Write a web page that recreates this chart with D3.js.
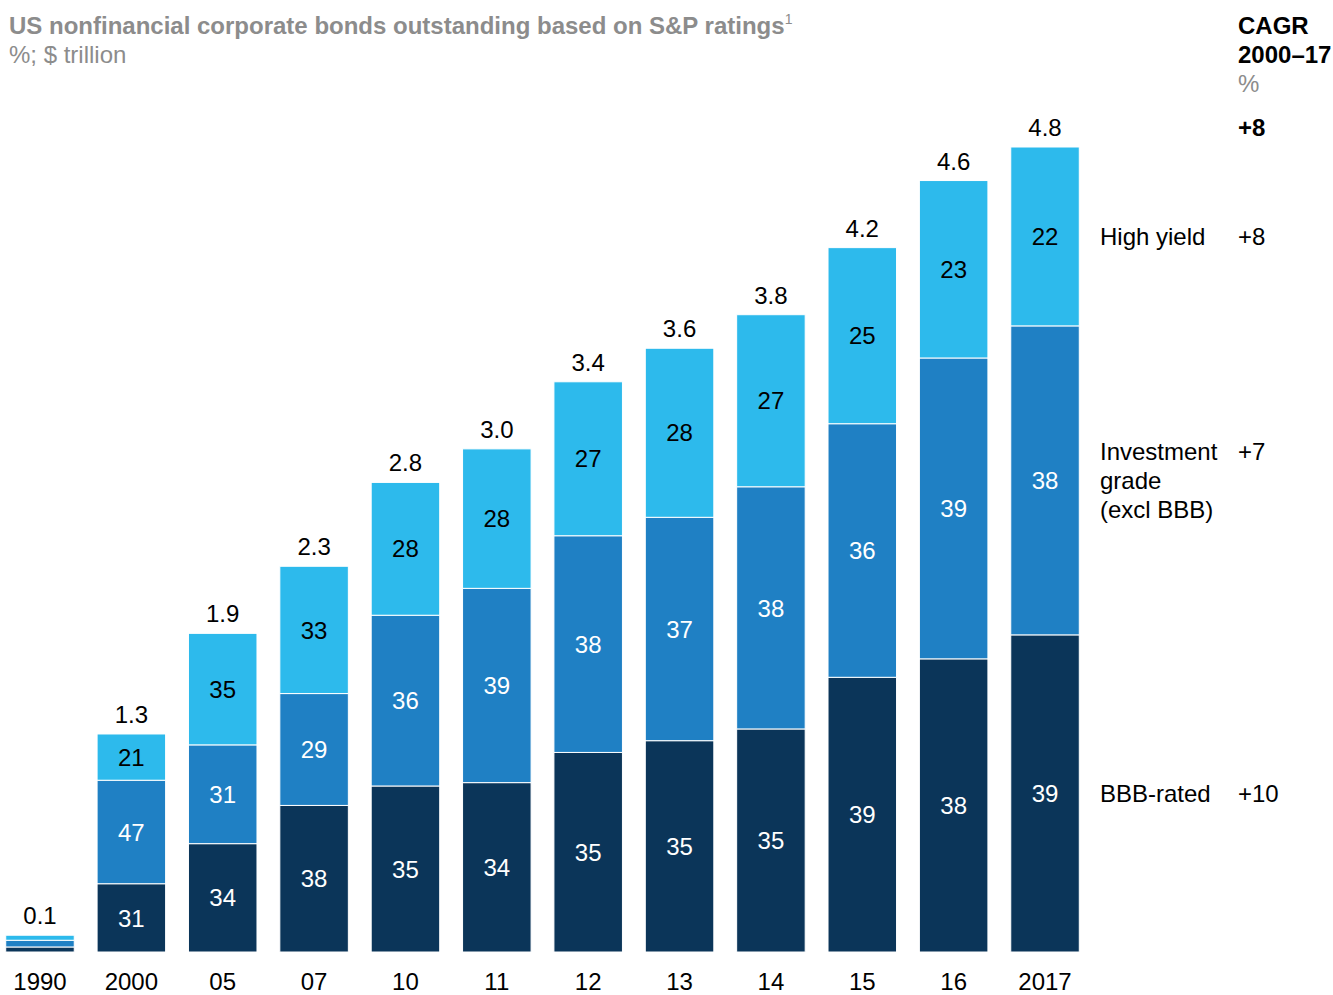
<!DOCTYPE html>
<html>
<head>
<meta charset="utf-8">
<script src="https://cdn.jsdelivr.net/npm/d3@7/dist/d3.min.js"></script>
<style>
  html, body { margin: 0; padding: 0; background: #fff; }
  svg { display: block; font-family: "Liberation Sans", Arial, sans-serif; }
</style>
</head>
<body>
<svg id="chart" width="1333" height="995"></svg>
<script>
// Years on the x axis
const years = ["1990", "2000", "05", "07", "10", "11", "12", "13", "14", "15", "16", "2017"];
// Total outstanding, $ trillion
const totals = [0.1, 1.3, 1.9, 2.3, 2.8, 3.0, 3.4, 3.6, 3.8, 4.2, 4.6, 4.8];
// Share of total by rating, % (1990 shares are not labelled)
const bbbShare = [30, 31, 34, 38, 35, 34, 35, 35, 35, 39, 38, 39];
const igShare  = [40, 47, 31, 29, 36, 39, 38, 37, 38, 36, 39, 38];
const hyShare  = [30, 21, 35, 33, 28, 28, 27, 28, 27, 25, 23, 22];
const showShareLabels = [false, true, true, true, true, true, true, true, true, true, true, true];

// Series (bottom to top) and the CAGR column
const seriesLabelLines = [["BBB-rated"], ["Investment", "grade", "(excl BBB)"], ["High yield"]];
const seriesCagr = ["+10", "+7", "+8"];
const totalCagr = "+8";
const colors = ["#0b3559", "#1f80c4", "#2dbaec"];
const labelColors = ["#ffffff", "#ffffff", "#000000"];
const fs = 24;

const svg = d3.select("#chart");

const x = d3.scaleBand()
  .domain(years)
  .range([-5.7, 1090.7])
  .paddingInner(0.25)
  .paddingOuter(0.125);

const y = d3.scaleLinear().domain([0, 4.8]).range([952, 147]);

// Stack the shares scaled to each year's total
const rows = years.map((yr, i) => {
  const s = [bbbShare[i], igShare[i], hyShare[i]];
  const sum = d3.sum(s);
  return { year: yr, total: totals[i], shares: s, values: s.map(v => v / sum * totals[i]), show: showShareLabels[i] };
});
const stacked = d3.stack()
  .keys([0, 1, 2])
  .value((d, k) => d.values[k])(rows);

const bars = svg.append("g");
stacked.forEach((layer, k) => {
  bars.selectAll(null)
    .data(layer)
    .join("rect")
    .attr("x", d => x(d.data.year))
    .attr("width", x.bandwidth())
    .attr("y", d => y(d[1]))
    .attr("height", d => Math.max(0, y(d[0]) - y(d[1])))
    .attr("fill", colors[k])
    .attr("stroke", "#ffffff")
    .attr("stroke-width", 1);

  bars.selectAll(null)
    .data(layer.filter(d => d.data.show))
    .join("text")
    .attr("x", d => x(d.data.year) + x.bandwidth() / 2)
    .attr("y", d => (y(d[0]) + y(d[1])) / 2)
    .attr("dy", "0.36em")
    .attr("text-anchor", "middle")
    .attr("font-size", fs)
    .attr("fill", labelColors[k])
    .text(d => d.data.shares[k]);
});

// Totals above bars
svg.append("g").selectAll("text")
  .data(rows)
  .join("text")
  .attr("x", d => x(d.year) + x.bandwidth() / 2)
  .attr("y", d => y(d.total) - 11)
  .attr("text-anchor", "middle")
  .attr("font-size", fs)
  .attr("fill", "#000")
  .text(d => d3.format(".1f")(d.total));

// Year labels
svg.append("g").selectAll("text")
  .data(years)
  .join("text")
  .attr("x", d => x(d) + x.bandwidth() / 2)
  .attr("y", 990)
  .attr("text-anchor", "middle")
  .attr("font-size", fs)
  .attr("fill", "#000")
  .text(d => d);

// Title block
const title = svg.append("text").attr("x", 9).attr("y", 34)
  .attr("font-size", fs).attr("font-weight", "bold").attr("fill", "#8c8c8c");
title.append("tspan").text("US nonfinancial corporate bonds outstanding based on S&P ratings");
title.append("tspan").attr("font-size", 14).attr("font-weight", "normal").attr("dy", -10).text("1");
svg.append("text").attr("x", 9).attr("y", 63)
  .attr("font-size", fs).attr("fill", "#8c8c8c").text("%; $ trillion");

// CAGR column header
const cagrX = 1238;
svg.append("text").attr("x", cagrX).attr("y", 34).attr("font-size", fs).attr("font-weight", "bold").text("CAGR");
svg.append("text").attr("x", cagrX).attr("y", 63).attr("font-size", fs).attr("font-weight", "bold").text("2000–17");
svg.append("text").attr("x", cagrX).attr("y", 92).attr("font-size", fs).attr("fill", "#8c8c8c").text("%");
svg.append("text").attr("x", cagrX).attr("y", y(totals[totals.length - 1]) - 11)
  .attr("font-size", fs).attr("font-weight", "bold").text(totalCagr);

// Series labels aligned with the last bar's segments
const last = stacked.map(layer => layer[layer.length - 1]);
const lineH = 29;
last.forEach((d, k) => {
  const lines = seriesLabelLines[k];
  const mid = (y(d[0]) + y(d[1])) / 2;
  const top = lines.length > 1 ? mid - (lines.length - 1) * lineH / 2 : mid;
  const t = svg.append("text")
    .attr("x", 1100).attr("font-size", fs).attr("fill", "#000");
  lines.forEach((ln, j) => {
    t.append("tspan").attr("x", 1100).attr("y", top + j * lineH).attr("dy", "0.36em").text(ln);
  });
  svg.append("text").attr("x", cagrX).attr("y", top).attr("dy", "0.36em")
    .attr("font-size", fs).attr("fill", "#000").text(seriesCagr[k]);
});
</script>
</body>
</html>
